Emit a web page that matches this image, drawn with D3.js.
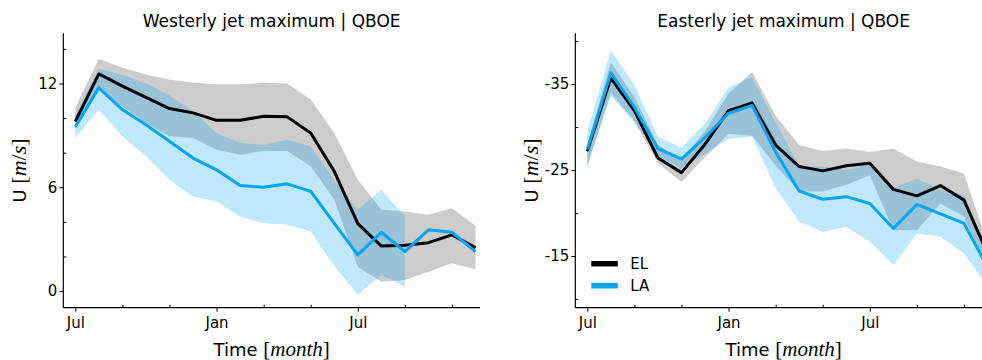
<!DOCTYPE html>
<html>
<head>
<meta charset="utf-8">
<script src="https://cdn.jsdelivr.net/npm/d3@7"></script>
<style>
  html, body { margin: 0; padding: 0; background: #fff; }
  svg { display: block; font-family: "DejaVu Sans", sans-serif; }
  .math { font-family: "Liberation Serif", serif; }
</style>
</head>
<body>
<svg id="chart" width="982" height="360"></svg>
<script>
// Months since July (0 = Jul, 6 = Jan, 12 = Jul, ...)
const months = d3.range(0, 18);
const majorMonths = [0, 6, 12];
const majorMonthLabels = ["Jul", "Jan", "Jul"];
const minorMonths = [2, 4, 8, 10, 14, 16];

// Westerly jet maximum (m/s)
const westEL    = [9.8, 12.55, 11.85, 11.2, 10.55, 10.3, 9.87, 9.87, 10.1, 10.07, 9.14, 6.92, 3.9, 2.6, 2.65, 2.8, 3.25, 2.51];
const westEL_hi = [10.6, 13.43, 12.91, 12.52, 12.23, 12.04, 11.95, 11.95, 12.04, 12.0, 11.07, 9.14, 6.43, 4.7, 4.6, 4.41, 4.79, 3.77];
const westEL_lo = [9.4, 11.65, 10.68, 9.72, 8.95, 8.85, 8.17, 7.88, 8.1, 8.1, 7.21, 5.3, 1.41, 0.54, 0.64, 1.12, 1.61, 1.26];
const westLA    = [9.49, 11.75, 10.49, 9.62, 8.66, 7.69, 7.01, 6.1, 6.0, 6.2, 5.76, 3.92, 2.09, 3.4, 2.28, 3.54, 3.4, 2.28];
const westLA_hi = [10.1, 12.85, 12.5, 12.0, 11.3, 10.4, 9.14, 8.56, 8.45, 8.75, 8.37, 6.4, 4.7, 5.86, 4.31, null, null, null];
const westLA_lo = [8.85, 10.49, 8.95, 7.79, 6.43, 5.47, 5.18, 4.31, 3.92, 3.83, 3.44, 1.45, -0.23, 0.93, 0.25, null, null, null];
const westMajorTicks = [0, 6, 12];
const westMinorTicks = [2, 4, 8, 10, 14];

// Easterly jet maximum (m/s)
const eastEL    = [-27.2, -35.7, -31.9, -26.4, -24.7, -28.0, -31.9, -32.8, -27.9, -25.4, -24.9, -25.5, -25.8, -22.75, -22.0, -23.2, -21.5, -15.3];
const eastEL_hi = [-28.0, -37.5, -33.5, -27.9, -26.2, -29.5, -33.9, -36.4, -31.3, -27.9, -27.2, -27.5, -27.1, -27.5, -26.0, -25.4, -24.6, -16.5];
const eastEL_lo = [-25.5, -34.0, -30.7, -25.8, -23.6, -26.5, -29.2, -29.0, -25.5, -22.5, -22.5, -23.3, -24.4, -18.0, -18.0, -21.1, -19.6, -13.0];
const eastLA    = [-27.4, -36.3, -32.3, -27.5, -26.3, -28.8, -31.6, -32.5, -27.1, -22.56, -21.6, -21.9, -21.1, -18.2, -21.0, -19.9, -18.8, -13.7];
const eastLA_hi = [-29.5, -38.9, -34.9, -28.9, -27.6, -30.4, -34.6, -35.8, -30.5, -25.4, -25.4, -25.0, -25.6, -22.9, -24.0, -22.7, -22.1, -15.5];
const eastLA_lo = [-25.5, -33.6, -30.5, -26.6, -25.2, -26.9, -28.6, -28.9, -22.9, -19.0, -17.8, -18.4, -16.7, -13.95, -17.6, -17.25, -15.3, -11.5];
const eastMajorTicks = [-35, -25, -15];
const eastMinorTicks = [-40, -30, -20, -10];

const seriesNames = ["EL", "LA"];
const colorEL = "#000000";
const colorLA = "#00a5f5";

const svg = d3.select("#chart");

const plotTop = 33.3, plotBottom = 307.7;

const panels = [
  {
    title: "Westerly jet maximum | QBOE",
    left: 63.3, right: 480,
    yDomain: [-0.96, 14.9],
    el: westEL, elHi: westEL_hi, elLo: westEL_lo,
    la: westLA, laHi: westLA_hi, laLo: westLA_lo,
    yMajor: westMajorTicks, yMinor: westMinorTicks,
    legend: false
  },
  {
    title: "Easterly jet maximum | QBOE",
    left: 575.3, right: 992,
    yDomain: [-8.99, -40.9],
    el: eastEL, elHi: eastEL_hi, elLo: eastEL_lo,
    la: eastLA, laHi: eastLA_hi, laLo: eastLA_lo,
    yMajor: eastMajorTicks, yMinor: eastMinorTicks,
    legend: true
  }
];

panels.forEach((p, i) => {
  const x = d3.scaleLinear().domain([-0.51, 17.19]).range([p.left, p.right]);
  const y = d3.scaleLinear().domain(p.yDomain).range([plotBottom, plotTop]);

  const clipId = "clip" + i;
  svg.append("clipPath").attr("id", clipId)
    .append("rect")
    .attr("x", p.left).attr("y", plotTop)
    .attr("width", p.right - p.left).attr("height", plotBottom - plotTop);

  const g = svg.append("g").attr("clip-path", `url(#${clipId})`);

  const band = (hi, lo) => d3.area()
    .defined(d => hi[d] != null && lo[d] != null)
    .x(d => x(d))
    .y0(d => y(lo[d]))
    .y1(d => y(hi[d]));

  const line = vals => d3.line()
    .x(d => x(d))
    .y(d => y(vals[d]));

  // Spread bands: EL in grey, LA in light blue on top
  g.append("path").datum(months)
    .attr("d", band(p.elHi, p.elLo))
    .attr("fill", "#000").attr("fill-opacity", 0.2);
  g.append("path").datum(months)
    .attr("d", band(p.laHi, p.laLo))
    .attr("fill", colorLA).attr("fill-opacity", 0.25);

  // Mean lines
  g.append("path").datum(months)
    .attr("d", line(p.el))
    .attr("fill", "none").attr("stroke", colorEL)
    .attr("stroke-width", 3).attr("stroke-linejoin", "round");
  g.append("path").datum(months)
    .attr("d", line(p.la))
    .attr("fill", "none").attr("stroke", colorLA)
    .attr("stroke-width", 3).attr("stroke-linejoin", "round");

  // X axis: labelled major ticks outward, minor ticks inward
  const xMajor = d3.axisBottom(x)
    .tickValues(majorMonths)
    .tickFormat((d, k) => majorMonthLabels[k])
    .tickSize(4).tickPadding(6);
  const xMinor = d3.axisBottom(x)
    .tickValues(minorMonths)
    .tickFormat("")
    .tickSize(-3);

  const gxMinor = svg.append("g").attr("transform", `translate(0,${plotBottom})`).call(xMinor);
  gxMinor.select(".domain").remove();
  const gx = svg.append("g").attr("transform", `translate(0,${plotBottom})`).call(xMajor);
  gx.select(".domain").attr("d", `M${p.left},0H${p.right}`);

  // Y axis: labelled ticks outward, unlabelled ticks inward
  const fmt = d => (d < 0 ? "-" + Math.abs(d) : String(d));
  const yMajorAxis = d3.axisLeft(y)
    .tickValues(p.yMajor)
    .tickFormat(fmt)
    .tickSize(4).tickPadding(2);
  const yMinorAxis = d3.axisLeft(y)
    .tickValues(p.yMinor)
    .tickFormat("")
    .tickSize(-3);

  const gyMinor = svg.append("g").attr("transform", `translate(${p.left},0)`).call(yMinorAxis);
  gyMinor.select(".domain").remove();
  const gy = svg.append("g").attr("transform", `translate(${p.left},0)`).call(yMajorAxis);
  gy.select(".domain").attr("d", `M0,${plotTop}V${plotBottom}`);

  [gx, gxMinor, gy, gyMinor].forEach(a => {
    a.selectAll("text").attr("font-family", "DejaVu Sans").attr("font-size", 15).attr("fill", "#000");
    a.selectAll("line").attr("stroke", "#000").attr("stroke-width", 1);
    a.select(".domain").attr("stroke", "#000").attr("stroke-width", 1.2);
  });

  const cx = (p.left + p.right) / 2;

  // Title
  svg.append("text")
    .attr("x", cx).attr("y", 27.3)
    .attr("text-anchor", "middle")
    .attr("font-size", 17)
    .text(p.title);

  // X label
  const xl = svg.append("text")
    .attr("x", cx).attr("y", 356)
    .attr("text-anchor", "middle")
    .attr("font-size", 18);
  xl.append("tspan").text("Time ");
  xl.append("tspan").attr("class", "math").attr("font-size", 21).text("[");
  xl.append("tspan").attr("class", "math").attr("font-size", 21).attr("font-style", "italic").text("month");
  xl.append("tspan").attr("class", "math").attr("font-size", 21).text("]");

  // Y label
  const ly = svg.append("text")
    .attr("transform", `translate(${p.left - 37},${(plotTop + plotBottom) / 2}) rotate(-90)`)
    .attr("text-anchor", "middle")
    .attr("font-size", 18);
  ly.append("tspan").text("U ");
  ly.append("tspan").attr("class", "math").attr("font-size", 22).text("[");
  ly.append("tspan").attr("class", "math").attr("font-size", 22).attr("font-style", "italic").text("m");
  ly.append("tspan").attr("class", "math").attr("font-size", 22).text("/");
  ly.append("tspan").attr("class", "math").attr("font-size", 22).attr("font-style", "italic").text("s");
  ly.append("tspan").attr("class", "math").attr("font-size", 22).text("]");

  if (p.legend) {
    const legendColors = [colorEL, colorLA];
    const lg = svg.append("g");
    seriesNames.forEach((name, k) => {
      const yy = 263.7 + k * 22;
      lg.append("line")
        .attr("x1", p.left + 16).attr("x2", p.left + 42.5)
        .attr("y1", yy).attr("y2", yy)
        .attr("stroke", legendColors[k]).attr("stroke-width", 5.5);
      lg.append("text")
        .attr("x", p.left + 55).attr("y", yy + 5.5)
        .attr("font-size", 15)
        .text(name);
    });
  }
});
</script>
</body>
</html>
